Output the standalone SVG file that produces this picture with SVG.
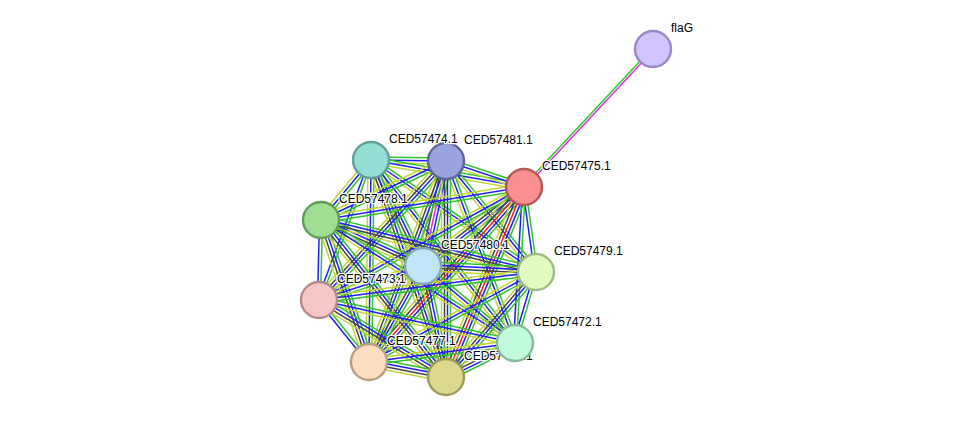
<svg xmlns="http://www.w3.org/2000/svg" width="976" height="423" viewBox="0 0 976 423">
<style>
line{stroke-width:1.5;vector-effect:non-scaling-stroke;fill:none}
.g{stroke:#2ec42e}.b{stroke:#1f1ff2}.y{stroke:#c2d43c}.k{stroke:#444444}.r{stroke:#f02020}.m{stroke:#e030e0}
circle{stroke-width:2.4}
text{font-family:"Liberation Sans",Arial,sans-serif;font-size:12px;fill:#000;paint-order:stroke;stroke:#fff;stroke-width:2.5;stroke-linejoin:round}
</style>
<defs>
<g id="gb"><line class="g" x1="0" y1="-1.5" x2="1" y2="-1.5"/><line class="b" x1="0" y1="1.5" x2="1" y2="1.5"/></g>
<g id="gm"><line class="g" x1="0" y1="-1.2" x2="1" y2="-1.2"/><line class="m" x1="0" y1="1.2" x2="1" y2="1.2"/></g>
<g id="gby"><line class="g" x1="0" y1="-3" x2="1" y2="-3"/><line class="b" x1="0" y1="0" x2="1" y2="0"/><line class="y" x1="0" y1="3" x2="1" y2="3"/></g>
<g id="gbyk"><line class="g" x1="0" y1="-4.5" x2="1" y2="-4.5"/><line class="b" x1="0" y1="-1.5" x2="1" y2="-1.5"/><line class="k" x1="0" y1="1.5" x2="1" y2="1.5"/><line class="y" x1="0" y1="4.5" x2="1" y2="4.5"/></g>
<g id="gbykr"><line class="g" x1="0" y1="-6" x2="1" y2="-6"/><line class="b" x1="0" y1="-3" x2="1" y2="-3"/><line class="r" x1="0" y1="0" x2="1" y2="0"/><line class="k" x1="0" y1="3" x2="1" y2="3"/><line class="y" x1="0" y1="6" x2="1" y2="6"/></g>
<g id="gbykm"><line class="g" x1="0" y1="-6" x2="1" y2="-6"/><line class="b" x1="0" y1="-3" x2="1" y2="-3"/><line class="m" x1="0" y1="0" x2="1" y2="0"/><line class="k" x1="0" y1="3" x2="1" y2="3"/><line class="y" x1="0" y1="6" x2="1" y2="6"/></g>
</defs>
<g id="connectors">
<use href="#gby" transform="matrix(75,1,-0.01,1,371,160)"/>
<use href="#gby" transform="matrix(153,27,-0.17,0.98,371,160)"/>
<use href="#gby" transform="matrix(-50,60,-0.77,-0.64,371,160)"/>
<use href="#gbyk" transform="matrix(52,106,-0.9,0.44,371,160)"/>
<use href="#gby" transform="matrix(165,112,-0.56,0.83,371,160)"/>
<use href="#gb" transform="matrix(-52,140,-0.94,-0.35,371,160)"/>
<use href="#gby" transform="matrix(144,183,-0.79,0.62,371,160)"/>
<use href="#gby" transform="matrix(-2,202,-1,-0.01,371,160)"/>
<use href="#gbyk" transform="matrix(75,217,-0.95,0.33,371,160)"/>
<use href="#gby" transform="matrix(78,26,-0.32,0.95,446,161)"/>
<use href="#gby" transform="matrix(-125,59,-0.43,-0.9,446,161)"/>
<use href="#gbykm" transform="matrix(-23,105,-0.98,-0.21,446,161)"/>
<use href="#gby" transform="matrix(90,111,-0.78,0.63,446,161)"/>
<use href="#gbyk" transform="matrix(-127,139,-0.74,-0.67,446,161)"/>
<use href="#gby" transform="matrix(69,182,-0.94,0.35,446,161)"/>
<use href="#gbyk" transform="matrix(-77,201,-0.93,-0.36,446,161)"/>
<use href="#gbyk" transform="matrix(0,216,-1,0,446,161)"/>
<use href="#gby" transform="matrix(-203,33,-0.16,-0.99,524,187)"/>
<use href="#gbyk" transform="matrix(-101,79,-0.62,-0.79,524,187)"/>
<use href="#gb" transform="matrix(12,85,-0.99,0.14,524,187)"/>
<use href="#gby" transform="matrix(-205,113,-0.48,-0.88,524,187)"/>
<use href="#gb" transform="matrix(-9,156,-1,-0.06,524,187)"/>
<use href="#gbykr" transform="matrix(-155,175,-0.75,-0.66,524,187)"/>
<use href="#gbykr" transform="matrix(-78,190,-0.93,-0.38,524,187)"/>
<use href="#gbyk" transform="matrix(102,46,-0.41,0.91,321,220)"/>
<use href="#gbyk" transform="matrix(215,52,-0.24,0.97,321,220)"/>
<use href="#gb" transform="matrix(-2,80,-1,-0.03,321,220)"/>
<use href="#gby" transform="matrix(194,123,-0.54,0.84,321,220)"/>
<use href="#gbyk" transform="matrix(48,142,-0.95,0.32,321,220)"/>
<use href="#gbyk" transform="matrix(125,157,-0.78,0.62,321,220)"/>
<use href="#gbyk" transform="matrix(113,6,-0.05,1,423,266)"/>
<use href="#gby" transform="matrix(-104,34,-0.31,-0.95,423,266)"/>
<use href="#gby" transform="matrix(92,77,-0.64,0.77,423,266)"/>
<use href="#gbyk" transform="matrix(-54,96,-0.87,-0.49,423,266)"/>
<use href="#gbyk" transform="matrix(23,111,-0.98,0.2,423,266)"/>
<use href="#gby" transform="matrix(-217,28,-0.13,-0.99,536,272)"/>
<use href="#gb" transform="matrix(-21,71,-0.96,-0.28,536,272)"/>
<use href="#gby" transform="matrix(-167,90,-0.47,-0.88,536,272)"/>
<use href="#gbyk" transform="matrix(-90,105,-0.76,-0.65,536,272)"/>
<use href="#gby" transform="matrix(196,43,-0.21,0.98,319,300)"/>
<use href="#gb" transform="matrix(50,62,-0.78,0.63,319,300)"/>
<use href="#gbyk" transform="matrix(127,77,-0.52,0.86,319,300)"/>
<use href="#gby" transform="matrix(-146,19,-0.13,-0.99,515,343)"/>
<use href="#gbyk" transform="matrix(-69,34,-0.44,-0.88,515,343)"/>
<use href="#gbyk" transform="matrix(77,15,-0.19,0.98,369,362)"/>
<use href="#gm" transform="matrix(129,-138,0.73,0.68,524,187)"/>
</g>
<g id="flaG"><circle cx="653" cy="49" r="18" fill="#d1c3fb" stroke="#9a86c8"/><text x="671" y="32">flaG</text></g>
<g id="CED57481.1"><circle cx="446" cy="161" r="18" fill="#99a3dd" stroke="#5a6499"/><text x="464" y="144">CED57481.1</text></g>
<g id="CED57474.1"><circle cx="371" cy="160" r="18" fill="#95ded5" stroke="#5f9f98"/><text x="389" y="143">CED57474.1</text></g>
<g id="CED57475.1"><circle cx="524" cy="187" r="18" fill="#fa8f8f" stroke="#b45757"/><text x="542" y="170">CED57475.1</text></g>
<g id="CED57478.1"><circle cx="321" cy="220" r="18" fill="#a0de93" stroke="#5f9e56"/><text x="339" y="203">CED57478.1</text></g>
<g id="CED57480.1"><circle cx="423" cy="266" r="18" fill="#c0e6fa" stroke="#84a6b7"/><text x="441" y="249">CED57480.1</text></g>
<g id="CED57479.1"><circle cx="536" cy="272" r="18" fill="#e1fbc2" stroke="#a0ba86"/><text x="554" y="255">CED57479.1</text></g>
<g id="CED57473.1"><circle cx="319" cy="300" r="18" fill="#f6c7c7" stroke="#b38989"/><text x="337" y="283">CED57473.1</text></g>
<g id="CED57477.1"><circle cx="369" cy="362" r="18" fill="#fedebf" stroke="#b99e82"/><text x="387" y="345">CED57477.1</text></g>
<g id="CED57476.1"><circle cx="446" cy="377" r="18" fill="#dcd98f" stroke="#9e9b56"/><text x="464" y="360">CED57476.1</text></g>
<g id="CED57472.1"><circle cx="515" cy="343" r="18" fill="#c2fbdc" stroke="#85bb9d"/><text x="533" y="326">CED57472.1</text></g>
</svg>
